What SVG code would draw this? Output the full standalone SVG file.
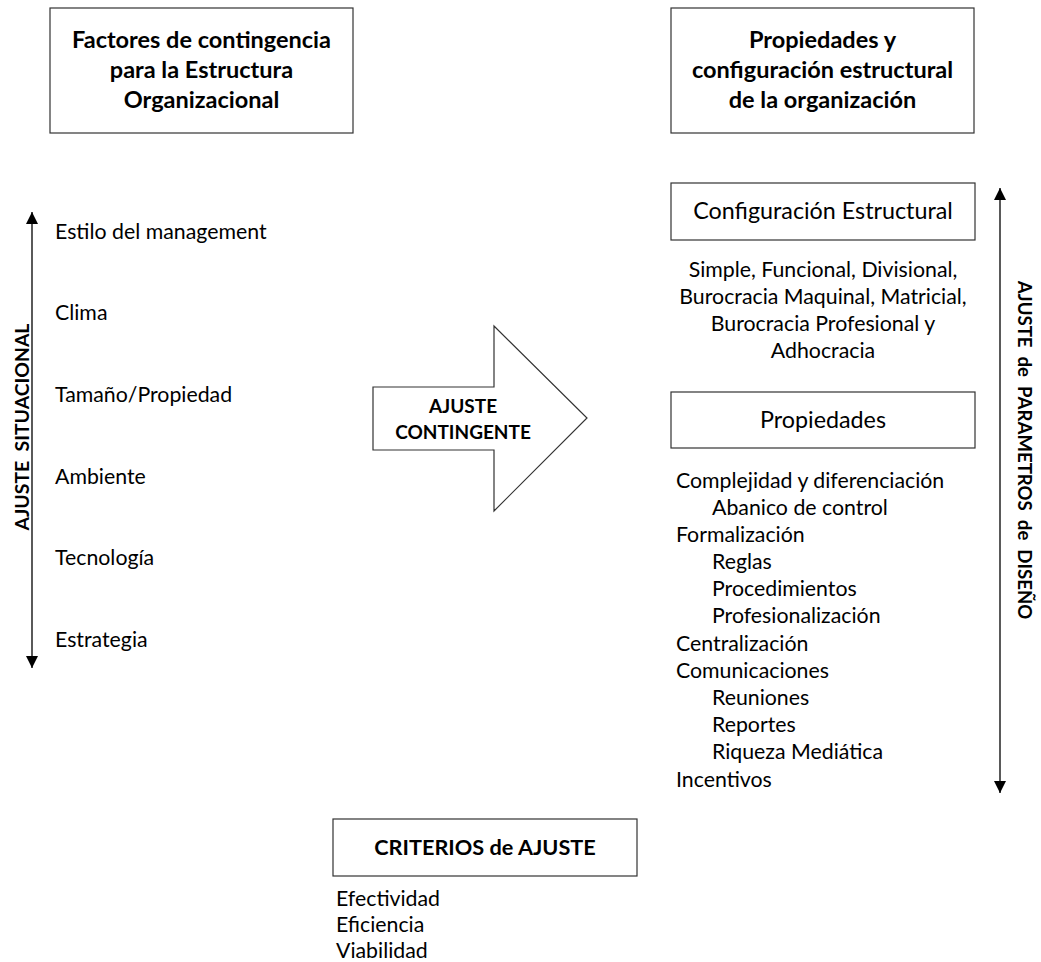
<svg xmlns="http://www.w3.org/2000/svg" width="1041" height="962" viewBox="0 0 1041 962">
  <style>
    text { font-family: Lato, "Open Sans", "Liberation Sans", sans-serif; fill: #000; }
    .b { font-weight: bold; }
    .h { font-size: 23.5px; font-weight: bold; text-anchor: middle; }
    .t { font-size: 21.3px; }
    .l { font-size: 23.3px; text-anchor: middle; }
    .c { text-anchor: middle; }
    .box { fill: #fff; stroke: #333; stroke-width: 1.2; }
    .ax { stroke: #000; stroke-width: 1.3; fill: none; }
    .v { font-weight: bold; white-space: pre; text-anchor: middle; }
  </style>
  <defs>
    <marker id="ah" viewBox="0 0 10 10" refX="10" refY="5" markerWidth="14" markerHeight="12" markerUnits="userSpaceOnUse" orient="auto-start-reverse">
      <path d="M0,0 L10,5 L0,10 Z" fill="#000"/>
    </marker>
  </defs>

  <!-- headers -->
  <g id="factores">
    <rect class="box" x="50" y="8" width="303" height="125"/>
    <text class="h" x="201.5" y="48">Factores de contingencia</text>
    <text class="h" x="201.5" y="78">para la Estructura</text>
    <text class="h" x="201.5" y="108">Organizacional</text>
  </g>
  <g id="propiedades-config">
    <rect class="box" x="671" y="8" width="303" height="125"/>
    <text class="h" x="822.5" y="48">Propiedades y</text>
    <text class="h" x="822.5" y="78">configuración estructural</text>
    <text class="h" x="822.5" y="108">de la organización</text>
  </g>

  <!-- axes -->
  <g id="connectors">
    <line class="ax" x1="32" y1="668" x2="32" y2="212" marker-start="url(#ah)" marker-end="url(#ah)"/>
    <line class="ax" x1="1000" y1="793" x2="1000" y2="188" marker-start="url(#ah)" marker-end="url(#ah)"/>
  </g>

  <g id="ajuste-situacional">
    <text class="v" font-size="19.4" transform="translate(29,427) rotate(-90)">AJUSTE  SITUACIONAL</text>
  </g>
  <g id="ajuste-parametros">
    <text class="v" font-size="18.6" transform="translate(1018,450) rotate(90)">AJUSTE  de  PARAMETROS  de  DISEÑO</text>
  </g>

  <!-- contingency factors -->
  <g id="factores-lista" class="t">
    <text x="55" y="239">Estilo del management</text>
    <text x="55" y="320">Clima</text>
    <text x="55" y="402">Tamaño/Propiedad</text>
    <text x="55" y="484">Ambiente</text>
    <text x="55" y="565">Tecnología</text>
    <text x="55" y="647">Estrategia</text>
  </g>

  <!-- central arrow -->
  <g id="ajuste-contingente">
    <path class="box" d="M373,387 H494 V326 L587,418 L494,511 V450 H373 Z"/>
    <text class="b c" x="463" y="413" font-size="19">AJUSTE</text>
    <text class="b c" x="463" y="439" font-size="19">CONTINGENTE</text>
  </g>

  <!-- structural configuration -->
  <g id="configuracion">
    <rect class="box" x="671" y="183" width="304" height="57"/>
    <text class="l" x="823" y="219">Configuración Estructural</text>
  </g>
  <g id="configuracion-tipos" class="t">
    <text class="c" x="823" y="277">Simple, Funcional, Divisional,</text>
    <text class="c" x="823" y="304">Burocracia Maquinal, Matricial,</text>
    <text class="c" x="823" y="331">Burocracia Profesional y</text>
    <text class="c" x="823" y="358">Adhocracia</text>
  </g>

  <g id="propiedades">
    <rect class="box" x="671" y="392" width="304" height="56"/>
    <text class="l" x="823" y="428">Propiedades</text>
  </g>
  <g id="propiedades-lista" class="t">
    <text x="676" y="488">Complejidad y diferenciación</text>
    <text x="712" y="515">Abanico de control</text>
    <text x="676" y="542">Formalización</text>
    <text x="712" y="569">Reglas</text>
    <text x="712" y="596">Procedimientos</text>
    <text x="712" y="623">Profesionalización</text>
    <text x="676" y="651">Centralización</text>
    <text x="676" y="678">Comunicaciones</text>
    <text x="712" y="705">Reuniones</text>
    <text x="712" y="732">Reportes</text>
    <text x="712" y="759">Riqueza Mediática</text>
    <text x="676" y="787">Incentivos</text>
  </g>

  <!-- fit criteria -->
  <g id="criterios">
    <rect class="box" x="333" y="819" width="304" height="57"/>
    <text class="b c" x="485" y="855" font-size="21.7">CRITERIOS de AJUSTE</text>
  </g>
  <g id="criterios-lista" class="t">
    <text x="336" y="906">Efectividad</text>
    <text x="336" y="932">Eficiencia</text>
    <text x="336" y="958">Viabilidad</text>
  </g>
</svg>
